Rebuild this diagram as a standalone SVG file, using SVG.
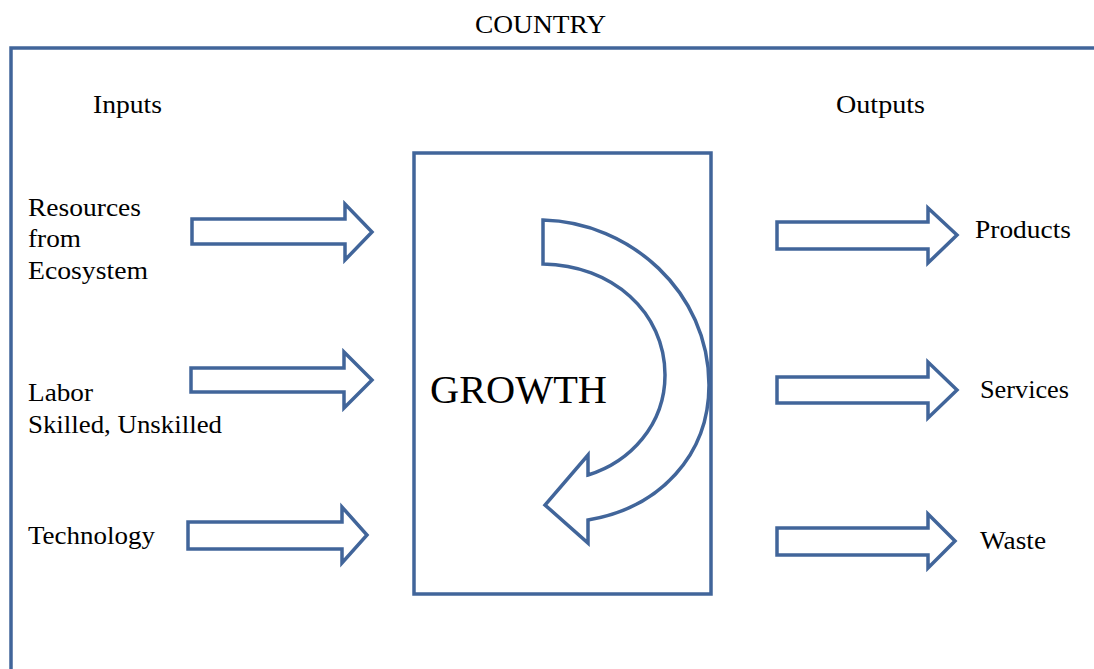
<svg xmlns="http://www.w3.org/2000/svg" width="1094" height="669" viewBox="0 0 1094 669">
<style>
.shape{fill:#fff;stroke:#41659a;stroke-width:3.5;stroke-linejoin:miter}
text{font-family:"Liberation Serif","Times New Roman",Times,serif;fill:#000}
.lbl{font-size:25px}
.big{font-size:40px}
</style>
<rect width="1094" height="669" fill="#fff"/>
<g id="country">
<path d="M11,669 L11,48 L1094,48" fill="none" stroke="#41659a" stroke-width="3.5"/>
<text class="lbl" x="475" y="33" textLength="131" lengthAdjust="spacingAndGlyphs">COUNTRY</text>
</g>
<g id="headers">
<text class="lbl" x="93" y="113" textLength="69" lengthAdjust="spacingAndGlyphs">Inputs</text>
<text class="lbl" x="836" y="113" textLength="89" lengthAdjust="spacingAndGlyphs">Outputs</text>
</g>
<g id="growth">
<rect class="shape" x="414" y="153" width="297" height="441"/>
<path class="shape" d="M543,220 C630,222 709,292 709,385 C709,455 660,508 588,520 L588,543 L545,505 L588,455 L588,475 C630,462 665,425 665,375 C665,312 612,265 543,264 Z"/>
<text class="big" x="430" y="403" textLength="177" lengthAdjust="spacingAndGlyphs">GROWTH</text>
</g>
<g id="in-resources">
<text class="lbl" x="28" y="216" textLength="113" lengthAdjust="spacingAndGlyphs">Resources</text>
<text class="lbl" x="28" y="247" textLength="53" lengthAdjust="spacingAndGlyphs">from</text>
<text class="lbl" x="28" y="279" textLength="120" lengthAdjust="spacingAndGlyphs">Ecosystem</text>
</g>
<g id="in-labor">
<text class="lbl" x="28" y="401" textLength="65" lengthAdjust="spacingAndGlyphs">Labor</text>
<text class="lbl" x="28" y="433" textLength="194" lengthAdjust="spacingAndGlyphs">Skilled, Unskilled</text>
</g>
<g id="in-technology">
<text class="lbl" x="28" y="544" textLength="127" lengthAdjust="spacingAndGlyphs">Technology</text>
</g>
<g id="out-products">
<text class="lbl" x="975" y="238" textLength="96" lengthAdjust="spacingAndGlyphs">Products</text>
</g>
<g id="out-services">
<text class="lbl" x="980" y="398" textLength="89" lengthAdjust="spacingAndGlyphs">Services</text>
</g>
<g id="out-waste">
<text class="lbl" x="980" y="549" textLength="66" lengthAdjust="spacingAndGlyphs">Waste</text>
</g>
<g id="connectors">
<path class="shape" d="M192,219 L345,219 L345,204 L372,232 L345,260 L345,244 L192,244 Z"/>
<path class="shape" d="M191,368 L344,368 L344,352 L372,380 L344,408 L344,392 L191,392 Z"/>
<path class="shape" d="M188,522 L342,522 L342,507 L367,535 L342,563 L342,549 L188,549 Z"/>
<path class="shape" d="M777,222 L928,222 L928,208 L957,235 L928,263 L928,249 L777,249 Z"/>
<path class="shape" d="M777,377 L928,377 L928,362 L957,390 L928,418 L928,403 L777,403 Z"/>
<path class="shape" d="M777,528 L928,528 L928,514 L955,541 L928,568 L928,555 L777,555 Z"/>
</g>
</svg>
